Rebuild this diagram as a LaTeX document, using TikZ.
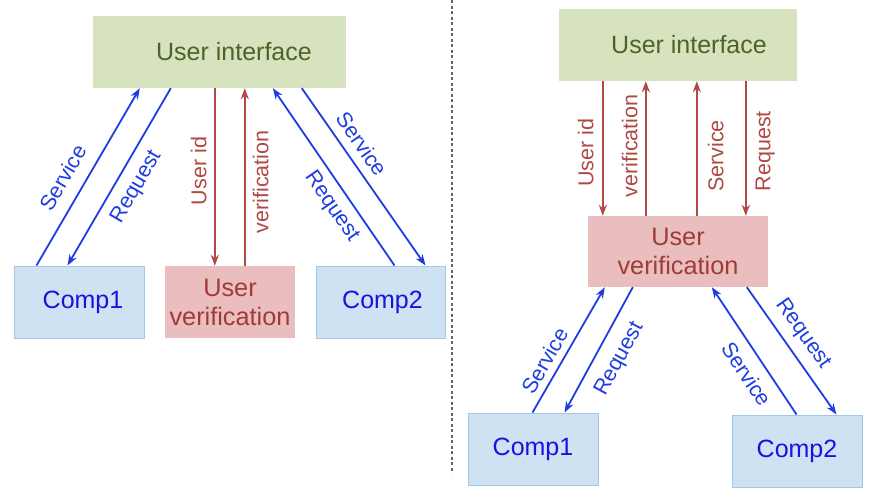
\documentclass[tikz,border=0pt]{standalone}
\usepackage{fontspec}
\setmainfont{Liberation Sans}
\usetikzlibrary{arrows.meta}
\definecolor{uifill}{RGB}{214,227,190}
\definecolor{uitext}{RGB}{79,98,40}
\definecolor{uvfill}{RGB}{234,190,190}
\definecolor{uvtext}{RGB}{160,60,56}
\definecolor{cfill}{RGB}{207,226,243}
\definecolor{cdraw}{RGB}{164,198,232}
\definecolor{ctext}{RGB}{20,20,225}
\definecolor{barrow}{RGB}{30,60,225}
\definecolor{rarrow}{RGB}{176,72,68}
\tikzset{
  x=1pt, y=-1pt,
  tip/.tip={Stealth[length=11pt,width=8pt,inset=3.5pt]},
  uibox/.style={fill=uifill, text=uitext, inner sep=0pt, font=\fontsize{25}{28}\selectfont},
  uvbox/.style={fill=uvfill, text=uvtext, inner sep=0pt, align=center, font=\fontsize{25.3}{29}\selectfont},
  cbox/.style={fill=cfill, draw=cdraw, line width=1pt, text=ctext, inner sep=0pt, font=\fontsize{25}{28}\selectfont},
  barr/.style={draw=barrow, line width=1.8pt, arrows={-tip}},
  rarr/.style={draw=rarrow, line width=1.8pt, arrows={-tip}},
  back/.style={arrows={tip-}},
  blab/.style={text=barrow, sloped, anchor=center, inner sep=0pt, font=\fontsize{21.5}{24}\selectfont},
  rlab/.style={text=rarrow, sloped, anchor=center, inner sep=0pt, font=\fontsize{21.5}{24}\selectfont},
}
\begin{document}
\begin{tikzpicture}
\useasboundingbox (0,0) rectangle (886,498);
% separator
\coordinate (sepT) at (452,0);
\coordinate (sepB) at (452,473);
\draw[gray!80!black, line width=1.3pt, dash pattern=on 3pt off 2.5pt] (sepT) -- (sepB);

% ---------- left diagram ----------
\node[uibox, minimum width=253pt, minimum height=72pt] (ui) at (219.5,52) {\hspace*{29pt}User interface};
\node[cbox, minimum width=130pt, minimum height=72pt] (c1) at (79,302) {\hspace*{8pt}Comp1};
\node[uvbox, minimum width=130pt, minimum height=72pt] (uv) at (230,302) {User\\verification};
\node[cbox, minimum width=129pt, minimum height=72pt] (c2) at (380.5,302) {\hspace*{4pt}Comp2};

\draw[barr] ([xshift=23pt]c1.north west) -- node[blab, pos=0.434, yshift=21.6pt] {Service} ([xshift=47pt]ui.south west);
\draw[barr, back] ([xshift=54pt]c1.north west) -- node[blab, pos=0.5, yshift=-20.2pt] {Request} ([xshift=78pt]ui.south west);
\draw[rarr, back] ([xshift=50pt]uv.north west) -- node[rlab, pos=0.534, yshift=16pt] {User id} ([xshift=122pt]ui.south west);
\draw[rarr] ([xshift=80pt]uv.north west) -- node[rlab, pos=0.472, yshift=-16pt] {verification} ([xshift=152pt]ui.south west);
\draw[barr, back] ([xshift=180pt]ui.south west) -- node[blab, pos=0.609, yshift=-18.6pt] {Request} ([xshift=79pt]c2.north west);
\draw[barr] ([xshift=209pt]ui.south west) -- node[blab, pos=0.37, yshift=17.2pt] {Service} ([xshift=110pt]c2.north west);

% ---------- right diagram ----------
\node[uibox, minimum width=238pt, minimum height=72pt] (rui) at (678,45) {\hspace*{22pt}User interface};
\node[uvbox, minimum width=180pt, minimum height=71pt] (ruv) at (678,251.5) {User\\verification};
\node[cbox, minimum width=130pt, minimum height=72pt] (rc1) at (533,449) {Comp1};
\node[cbox, minimum width=130pt, minimum height=72pt] (rc2) at (797,451) {Comp2};

\draw[rarr, back] ([xshift=15pt]ruv.north west) -- node[rlab, pos=0.467, yshift=17pt] {User id} ([xshift=44pt]rui.south west);
\draw[rarr] ([xshift=58pt]ruv.north west) -- node[rlab, pos=0.519, yshift=16pt] {verification} ([xshift=87pt]rui.south west);
\draw[rarr] ([xshift=109pt]ruv.north west) -- node[rlab, pos=0.444, yshift=-19pt] {Service} ([xshift=138pt]rui.south west);
\draw[rarr, back] ([xshift=158pt]ruv.north west) -- node[rlab, pos=0.48, yshift=-19.5pt] {Request} ([xshift=187pt]rui.south west);

\draw[barr] ([xshift=65pt]rc1.north west) -- node[blab, pos=0.352, yshift=15.4pt] {Service} ([xshift=17pt]ruv.south west);
\draw[barr, back] ([xshift=97pt]rc1.north west) -- node[blab, pos=0.514, yshift=-22.8pt] {Request} ([xshift=45pt]ruv.south west);
\draw[barr, back] ([xshift=124pt]ruv.south west) -- node[blab, pos=0.598, yshift=-19pt] {Service} ([xshift=65pt]rc2.north west);
\draw[barr] ([xshift=159pt]ruv.south west) -- node[blab, pos=0.452, yshift=18.8pt] {Request} ([xshift=105pt]rc2.north west);
\end{tikzpicture}
\end{document}
